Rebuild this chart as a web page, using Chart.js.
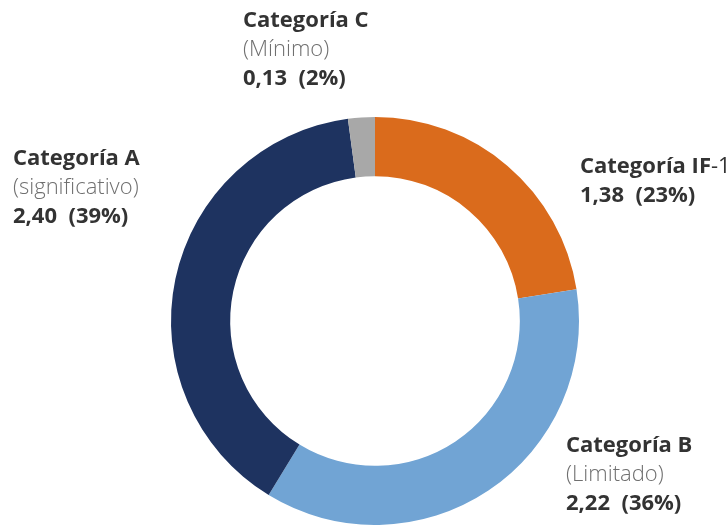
<!DOCTYPE html>
<html>
<head>
<meta charset="utf-8">
<script src="https://cdn.jsdelivr.net/npm/chart.js@4"></script>
<style>
  html, body { margin: 0; padding: 0; background: #fff; }
  #wrap { width: 727px; height: 525px; position: relative; }
</style>
</head>
<body>
<div id="wrap"><canvas id="donut"></canvas></div>
<script>
const categories = ['Categoría IF-1', 'Categoría B', 'Categoría A', 'Categoría C'];
const subtitles  = ['', '(Limitado)', '(significativo)', '(Mínimo)'];
const values     = [1.38, 2.22, 2.40, 0.13];
const colors     = ['#da6b1c', '#71a4d4', '#1e3360', '#a8a8a8'];

// where each text block sits (left x, first baseline y)
const labelPos = [
    { x: 580, y: 173 },
    { x: 566, y: 452 },
    { x: 13,  y: 165 },
    { x: 243, y: 27 }
];

const FONT = "'Open Sans', Lato, sans-serif";

function fmt(v) {
    return v.toFixed(2).replace('.', ',');
}

const labelPlugin = {
    id: 'sideLabels',
    afterDraw(chart) {
        const ctx = chart.ctx;
        const total = values.reduce((a, b) => a + b, 0);
        ctx.save();
        ctx.textBaseline = 'alphabetic';
        ctx.textAlign = 'left';
        categories.forEach(function (name, i) {
            const p = labelPos[i];
            let y = p.y;
            ctx.fillStyle = '#333333';
            ctx.font = 'bold 22px ' + FONT;
            if (name.endsWith('-1')) {
                const head = name.slice(0, -2);
                ctx.fillText(head, p.x, y);
                const w = ctx.measureText(head).width;
                ctx.font = '22px ' + FONT;
                ctx.fillText('-1', p.x + w, y);
            } else {
                ctx.fillText(name, p.x, y);
            }
            if (subtitles[i]) {
                y += 29;
                ctx.fillStyle = '#6f6f6f';
                ctx.font = '300 22px ' + FONT;
                ctx.fillText(subtitles[i], p.x, y);
            }
            y += 29;
            ctx.fillStyle = '#333333';
            ctx.font = 'bold 22px ' + FONT;
            const pct = Math.round(values[i] / total * 100);
            ctx.fillText(fmt(values[i]) + '  (' + pct + '%)', p.x, y);
        });
        ctx.restore();
    }
};

new Chart(document.getElementById('donut'), {
    type: 'doughnut',
    data: {
        labels: categories,
        datasets: [{
            data: values,
            backgroundColor: colors,
            borderWidth: 0,
            hoverOffset: 0
        }]
    },
    options: {
        responsive: true,
        maintainAspectRatio: false,
        animation: false,
        cutout: '71%',
        layout: { padding: { top: 117, bottom: 0, left: 23, right: 0 } },
        plugins: {
            legend: { display: false },
            tooltip: { enabled: false }
        }
    },
    plugins: [labelPlugin]
});
</script>
</body>
</html>
